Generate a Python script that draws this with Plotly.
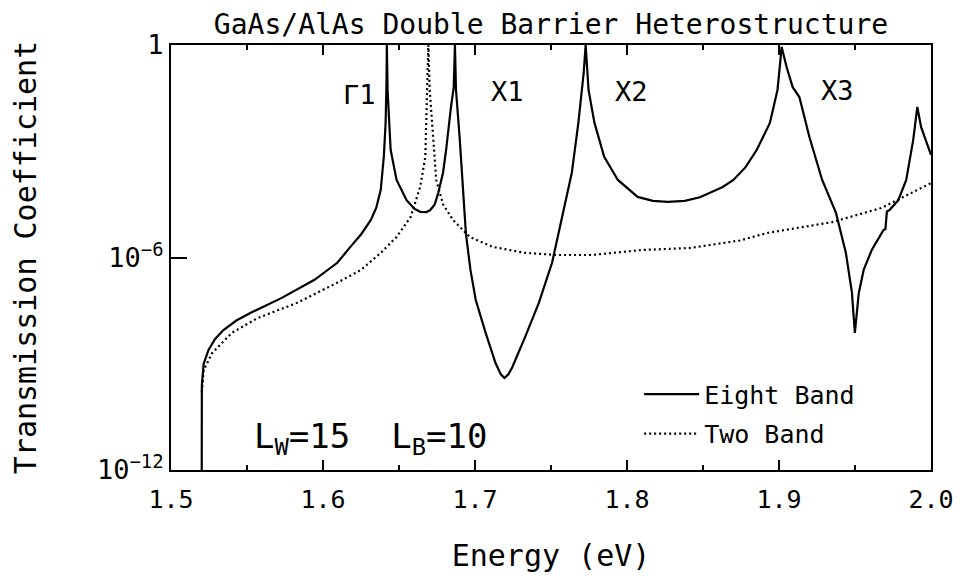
import plotly.graph_objects as go

# Eight-band (solid) curve: energy (eV) and log10(transmission)
eight_E = [1.5202, 1.5203, 1.5215, 1.5247, 1.5290, 1.5345, 1.5430, 1.5534, 1.5729, 1.5944,
           1.6094, 1.6159, 1.6180, 1.6250, 1.6315, 1.6350, 1.6380, 1.6400, 1.6412, 1.6418,
           1.6420, 1.6425, 1.6445, 1.6484, 1.6550, 1.6600, 1.6640, 1.6680, 1.6706, 1.6735,
           1.6758, 1.6790, 1.6810, 1.6842, 1.6855, 1.6860, 1.6868, 1.6875, 1.6900, 1.6920,
           1.6940, 1.6970, 1.7005, 1.7070, 1.7135, 1.7170, 1.7194, 1.7220, 1.7246, 1.7330,
           1.7420, 1.7507, 1.7570, 1.7637, 1.7680, 1.7715, 1.7728, 1.7747, 1.7786, 1.7850,
           1.7940, 1.8070, 1.8170, 1.8268, 1.8380, 1.8480, 1.8630, 1.8700, 1.8780, 1.8854,
           1.8940, 1.8990, 1.9010, 1.9017, 1.9050, 1.9090, 1.9134, 1.9200, 1.9284, 1.9375,
           1.9440, 1.9480, 1.9499, 1.9525, 1.9557, 1.9610, 1.9688, 1.9700, 1.9710, 1.9727,
           1.9785, 1.9837, 1.9883, 1.9910, 1.9935, 1.9980, 2.0000]
eight_logT = [-13.0, -9.6, -9.0, -8.61, -8.30, -8.05, -7.78, -7.54, -7.14, -6.63,
              -6.15, -5.79, -5.70, -5.35, -4.94, -4.60, -4.09, -3.16, -2.20, -1.00,
              0.0, -1.27, -2.96, -3.81, -4.38, -4.62, -4.71, -4.72, -4.66, -4.50,
              -4.18, -3.60, -2.96, -1.75, -1.36, -1.20, 0.0, -1.27, -2.68, -4.09,
              -5.31, -6.35, -7.20, -8.13, -8.98, -9.30, -9.40, -9.30, -9.09, -8.24,
              -7.28, -6.15, -4.94, -3.61, -2.20, -0.79, 0.0, -1.27, -2.20, -3.16,
              -3.81, -4.29, -4.40, -4.43, -4.40, -4.30, -4.01, -3.81, -3.45, -2.96,
              -2.20, -1.27, -0.40, -0.05, -0.62, -1.19, -1.47, -2.60, -3.81, -4.74,
              -5.87, -7.00, -8.13, -7.00, -6.35, -5.79, -5.22, -5.20, -4.70, -4.66,
              -4.38, -3.81, -2.68, -1.75, -2.32, -2.88, -3.10]

# Two-band (dotted) curve
two_E = [1.5203, 1.5215, 1.5270, 1.5400, 1.5570, 1.5830, 1.6090, 1.6250, 1.6380, 1.6484,
         1.6576, 1.6640, 1.6673, 1.6680, 1.6686, 1.6693, 1.6702, 1.6725, 1.6745, 1.6790,
         1.6855, 1.6966, 1.7116, 1.7330, 1.7550, 1.7767, 1.8090, 1.8420, 1.8743, 1.8920,
         1.9350, 1.9675, 2.0000]
two_logT = [-9.8, -9.18, -8.70, -8.13, -7.71, -7.28, -6.72, -6.35, -5.87, -5.42,
            -4.86, -4.00, -3.16, -2.20, -0.79, 0.0, -1.27, -2.68, -3.81, -4.50,
            -4.94, -5.42, -5.70, -5.87, -5.93, -5.93, -5.79, -5.73, -5.52, -5.31,
            -5.00, -4.60, -3.90]

# Resonance labels: (text, energy, log10 T)
peak_labels = ["\u03931", "X1", "X2", "X3"]
peak_label_E = [1.6237, 1.7214, 1.8027, 1.9382]
peak_label_logT = [-1.40, -1.30, -1.30, -1.28]

x_tickvals = [1.5, 1.6, 1.7, 1.8, 1.9, 2.0]
x_ticktext = ["1.5", "1.6", "1.7", "1.8", "1.9", "2.0"]
y_tickvals = [1e-12, 1e-6, 1]
y_ticktext = ["10<sup>\u221212</sup>", "10<sup>\u22126</sup>", "1"]

FONT = "DejaVu Sans Mono"

fig = go.Figure()
fig.add_trace(go.Scatter(
    x=eight_E, y=[10 ** v for v in eight_logT], mode="lines",
    name="Eight Band", legendgroup="a",
    line=dict(color="black", width=2.2)))
fig.add_trace(go.Scatter(
    x=two_E, y=[10 ** v for v in two_logT], mode="lines",
    name="Two Band", legendgroup="b",
    line=dict(color="black", width=2.2, dash="2px,3px")))

for t, e, lv in zip(peak_labels, peak_label_E, peak_label_logT):
    fig.add_annotation(x=e, y=lv, xref="x", yref="y", text=t, showarrow=False,
                       font=dict(family=FONT, size=27, color="black"))

fig.add_annotation(x=1.6315, y=-11.1, xref="x", yref="y",
                   text="L<sub>W</sub>=15  L<sub>B</sub>=10", showarrow=False,
                   font=dict(family=FONT, size=34, color="black"))

fig.update_layout(
    width=958, height=575,
    margin=dict(l=161, r=29, t=37, b=113),
    paper_bgcolor="white", plot_bgcolor="white",
    title=dict(text="GaAs/AlAs Double Barrier Heterostructure",
               x=0.5, xref="paper", y=1 - 16 / 575, yref="container",
               xanchor="center", yanchor="middle",
               font=dict(family=FONT, size=28, color="black")),
    showlegend=True,
    legend=dict(x=0.616, y=0.232, xanchor="left", yanchor="top",
                bgcolor="rgba(0,0,0,0)", itemwidth=55, tracegroupgap=4,
                font=dict(family=FONT, size=25, color="black")),
    font=dict(family=FONT, color="black"),
)

fig.update_xaxes(
    range=[1.5, 2.0], tickvals=x_tickvals, ticktext=x_ticktext,
    ticks="inside", ticklen=10, tickwidth=1.5, tickcolor="black",
    minor=dict(ticks="inside", ticklen=5, dtick=0.05, tickcolor="black", tickwidth=1.5),
    showline=True, linecolor="black", linewidth=2, mirror="ticks",
    showgrid=False, zeroline=False, ticklabelstandoff=6,
    tickfont=dict(family=FONT, size=25, color="black"),
    title=dict(text="Energy (eV)", font=dict(family=FONT, size=30, color="black"), standoff=32),
)
fig.update_yaxes(
    type="log", range=[-12, 0], tickvals=y_tickvals, ticktext=y_ticktext,
    ticks="inside", ticklen=16, tickwidth=1.5, tickcolor="black",
    showline=True, linecolor="black", linewidth=2, mirror=True,
    showgrid=False, zeroline=False,
    tickfont=dict(family=FONT, size=27, color="black"),
    title=dict(text="Transmission Coefficient", font=dict(family=FONT, size=30, color="black"), standoff=56),
)

fig.write_html("out.html")
